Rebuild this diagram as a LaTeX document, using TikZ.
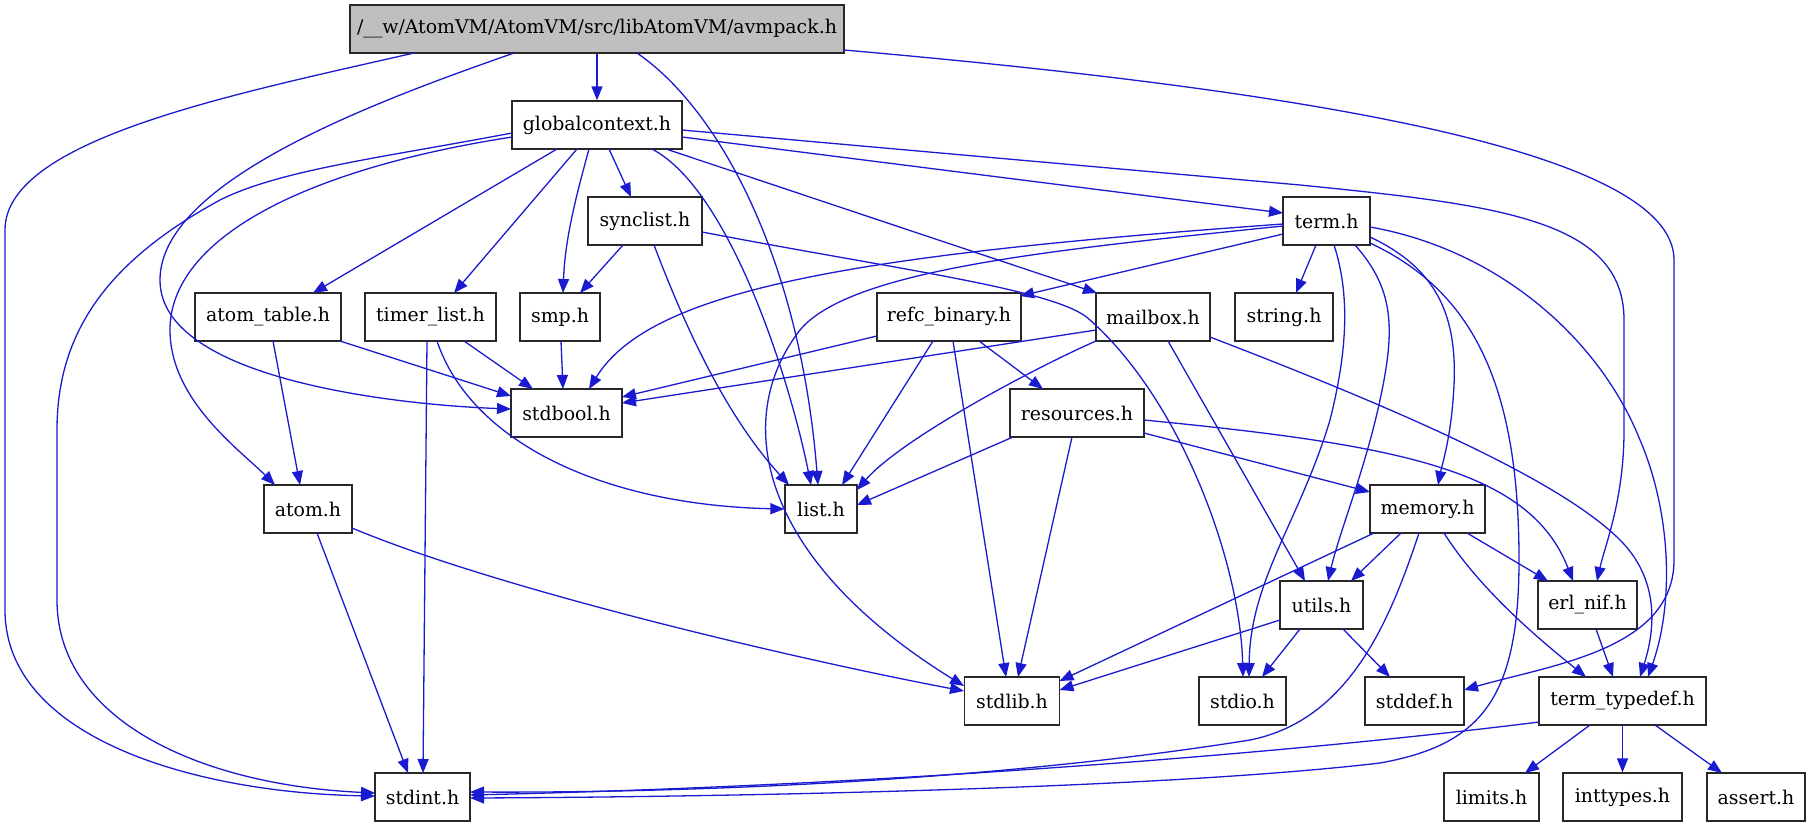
\documentclass[tikz,border=0pt]{standalone}
\usepackage{fontspec}
\setmainfont{DejaVu Serif}
\usetikzlibrary{arrows.meta,calc}
\definecolor{ec}{RGB}{26,26,208}
\definecolor{rootfill}{RGB}{191,191,191}
\definecolor{bordercol}{RGB}{40,40,40}
\begin{document}
\begin{tikzpicture}[x=1pt,y=-1pt,
  nd/.style={draw=bordercol, line width=1.3pt, fill=white, minimum height=48pt, inner sep=0pt, anchor=center,
    font=\fontsize{18.9pt}{22pt}\selectfont},
  e/.style={draw=ec, line width=1.3pt, -{Triangle[length=14pt,width=11pt]}, ec}]
\useasboundingbox (0,0) rectangle (1811,827);
% nodes
\node[nd, fill=rootfill, minimum width=494pt] (root) at (597,29) {/\_\_w/AtomVM/AtomVM/src/libAtomVM/avmpack.h};
\node[nd, minimum width=170pt] (gc) at (597,125) {globalcontext.h};
\node[nd, minimum width=114pt] (synclist) at (645,221) {synclist.h};
\node[nd, minimum width=87pt] (term) at (1326.5,221) {term.h};
\node[nd, minimum width=146pt] (atomtable) at (268,317) {atom\_table.h};
\node[nd, minimum width=131pt] (timerlist) at (430.5,317) {timer\_list.h};
\node[nd, minimum width=80pt] (smp) at (560,317) {smp.h};
\node[nd, minimum width=144pt] (refc) at (949,317) {refc\_binary.h};
\node[nd, minimum width=114pt] (mailbox) at (1153,317) {mailbox.h};
\node[nd, minimum width=98pt] (string) at (1284,317) {string.h};
\node[nd, minimum width=111pt] (stdbool) at (566.5,413) {stdbool.h};
\node[nd, minimum width=134pt] (resources) at (1077,413) {resources.h};
\node[nd, minimum width=88pt] (atom) at (308,509) {atom.h};
\node[nd, minimum width=72pt] (list) at (821,509) {list.h};
\node[nd, minimum width=115pt] (memory) at (1427.5,509) {memory.h};
\node[nd, minimum width=83pt] (utils) at (1321.5,605) {utils.h};
\node[nd, minimum width=99pt] (erlnif) at (1587.5,605) {erl\_nif.h};
\node[nd, minimum width=95pt] (stdlib) at (1012,701) {stdlib.h};
\node[nd, minimum width=87pt] (stdio) at (1242.5,701) {stdio.h};
\node[nd, minimum width=99pt] (stddef) at (1414.5,701) {stddef.h};
\node[nd, minimum width=167pt] (tt) at (1622.5,701) {term\_typedef.h};
\node[nd, minimum width=95pt] (stdint) at (422.5,797) {stdint.h};
\node[nd, minimum width=95pt] (limits) at (1491.5,797) {limits.h};
\node[nd, minimum width=119pt] (inttypes) at (1622.5,797) {inttypes.h};
\node[nd, minimum width=98pt] (assert) at (1756,797) {assert.h};
% root edges
\draw[e] (root.south) -- (gc.north);
\draw[e] ($(root)+(-183,24)$) .. controls (230,95) and (5,140) .. (5,230) -- (5,610) .. controls (5,740) and (200,793) .. ($(stdint)+(-47.5,-1)$);
\draw[e] ($(root)+(-83,24)$) .. controls (380,100) and (160,180) .. (160,280) .. controls (160,380) and (400,405) .. ($(stdbool)+(-55.5,-4)$);
\draw[e] ($(root)+(40,24)$) .. controls (720,110) and (800,260) .. ($(list)+(-3,-24)$);
\draw[e] ($(root)+(247,21)$) .. controls (1300,90) and (1674,150) .. (1674,260) -- (1674,560) .. controls (1674,650) and (1550,665) .. ($(stddef)+(49.5,-11)$);
% globalcontext edges
\draw[e] ($(gc)+(-40,24)$) -- ($(atomtable)+(45,-24)$);
\draw[e] ($(gc)+(-20,24)$) -- ($(timerlist)+(23.5,-24)$);
\draw[e] ($(gc)+(-8,24)$) .. controls (575,200) and (565,240) .. ($(smp)+(3,-24)$);
\draw[e] ($(gc)+(12,24)$) -- ($(synclist)+(-14,-24)$);
\draw[e] ($(gc)+(55,24)$) .. controls (730,190) and (790,380) .. ($(list)+(-10,-24)$);
\draw[e] ($(gc)+(69,24)$) -- ($(mailbox)+(-56,-24)$);
\draw[e] ($(gc)+(85,12)$) -- ($(term)+(-43.5,-8)$);
\draw[e] ($(gc)+(85,5)$) -- (1300,185) .. controls (1500,205) and (1624,220) .. (1624,320) -- (1624,430) .. controls (1624,500) and (1605,545) .. ($(erlnif)+(9.5,-24)$);
\draw[e] ($(gc)+(-85,8)$) .. controls (380,158) and (280,170) .. (220,200) .. controls (110,260) and (57,330) .. (57,430) -- (57,600) .. controls (57,720) and (200,785) .. ($(stdint)+(-47.5,-4)$);
\draw[e] ($(gc)+(-85,12)$) .. controls (300,170) and (170,240) .. (170,330) .. controls (170,400) and (240,450) .. ($(atom)+(-33,-24)$);
% synclist edges
\draw[e] ($(synclist)+(-22,24)$) -- ($(smp)+(20,-24)$);
\draw[e] ($(synclist)+(9,24)$) .. controls (690,340) and (730,420) .. ($(list)+(-32,-24)$);
\draw[e] ($(synclist)+(57,11)$) .. controls (900,270) and (1060,290) .. (1090,320) .. controls (1180,400) and (1240,560) .. ($(stdio)+(0.5,-24)$);
% atom_table, timer_list, smp
\draw[e] ($(atomtable)+(5,24)$) -- ($(atom)+(-8,-24)$);
\draw[e] ($(atomtable)+(72,24)$) -- ($(stdbool)+(-55.5,-17)$);
\draw[e] ($(timerlist)+(33.5,24)$) -- ($(stdbool)+(-33.5,-24)$);
\draw[e] ($(timerlist)+(-3.5,24)$) -- ($(stdint)+(0.5,-24)$);
\draw[e] ($(timerlist)+(6.5,24)$) .. controls (470,440) and (600,505) .. (list.west);
\draw[e] ($(smp)+(1,24)$) -- ($(stdbool)+(-3.5,-24)$);
% term edges
\draw[e] ($(term)+(-10.5,24)$) -- ($(string)+(12,-24)$);
\draw[e] ($(term)+(-43.5,13)$) -- ($(refc)+(71,-21)$);
\draw[e] ($(term)+(-43.5,3)$) .. controls (850,255) and (650,290) .. ($(stdbool)+(22.5,-24)$);
\draw[e] ($(term)+(-43.5,5)$) .. controls (1050,250) and (850,270) .. (800,330) .. controls (730,420) and (760,560) .. ($(stdlib)+(-48,-15)$);
\draw[e] ($(term)+(7.5,24)$) .. controls (1352,300) and (1345,360) .. (1330,420) .. controls (1300,520) and (1250,580) .. ($(stdio)+(6.5,-24)$);
\draw[e] ($(term)+(28.5,24)$) .. controls (1395,290) and (1395,330) .. (1380,400) .. controls (1365,470) and (1340,530) .. ($(utils)+(6.5,-24)$);
\draw[e] ($(term)+(43.5,16)$) .. controls (1440,270) and (1460,320) .. (1453,400) .. controls (1450,440) and (1442,465) .. ($(memory)+(10.5,-24)$);
\draw[e] ($(term)+(43.5,22)$) .. controls (1470,290) and (1519,380) .. (1519,560) .. controls (1519,700) and (1480,745) .. (1380,763) .. controls (1150,790) and (700,797) .. ($(stdint)+(47.5,1)$);
\draw[e] ($(term)+(43.5,6)$) .. controls (1500,250) and (1600,340) .. (1640,440) .. controls (1670,510) and (1675,600) .. ($(tt)+(25.5,-24)$);
% mailbox edges
\draw[e] ($(mailbox)+(-57,13)$) -- ($(stdbool)+(55.5,-10)$);
\draw[e] ($(mailbox)+(-57,24)$) .. controls (1030,370) and (900,440) .. ($(list)+(36,-19)$);
\draw[e] ($(mailbox)+(15,24)$) -- ($(utils)+(-16.5,-24)$);
\draw[e] ($(mailbox)+(57,20)$) .. controls (1400,410) and (1560,480) .. (1620,540) .. controls (1660,580) and (1655,630) .. ($(tt)+(17.5,-24)$);
% refc_binary edges
\draw[e] ($(refc)+(-72,19)$) -- ($(stdbool)+(55.5,-16)$);
\draw[e] ($(refc)+(-16,24)$) -- ($(list)+(21,-24)$);
\draw[e] ($(refc)+(4,24)$) -- ($(stdlib)+(-6,-24)$);
\draw[e] ($(refc)+(30,24)$) -- ($(resources)+(-34,-24)$);
% resources edges
\draw[e] ($(resources)+(-64,24)$) -- ($(list)+(36,-4)$);
\draw[e] ($(resources)+(-5,24)$) -- ($(stdlib)+(6,-24)$);
\draw[e] ($(resources)+(67,20)$) -- ($(memory)+(-57.5,-17)$);
\draw[e] ($(resources)+(67,7)$) .. controls (1400,445) and (1530,470) .. ($(erlnif)+(-14.5,-24)$);
% atom edges
\draw[e] ($(atom)+(9,24)$) -- ($(stdint)+(-14.5,-24)$);
\draw[e] ($(atom)+(44,19)$) .. controls (500,590) and (800,660) .. ($(stdlib)+(-48,-10)$);
% memory edges
\draw[e] ($(memory)+(-26.5,24)$) -- ($(utils)+(29.5,-24)$);
\draw[e] ($(memory)+(39.5,24)$) -- ($(erlnif)+(-39.5,-24)$);
\draw[e] ($(memory)+(16.5,24)$) .. controls (1480,590) and (1540,640) .. ($(tt)+(-36.5,-24)$);
\draw[e] ($(memory)+(-53.5,24)$) -- ($(stdlib)+(47.5,-20)$);
\draw[e] ($(memory)+(-8.5,24)$) .. controls (1390,620) and (1350,720) .. (1250,740) .. controls (1000,780) and (700,793) .. ($(stdint)+(47.5,-5)$);
% utils edges
\draw[e] ($(utils)+(-41.5,15)$) -- ($(stdlib)+(47.5,-11)$);
\draw[e] ($(utils)+(-21.5,24)$) -- ($(stdio)+(19.5,-24)$);
\draw[e] ($(utils)+(21.5,24)$) -- ($(stddef)+(-24.5,-24)$);
% erl_nif
\draw[e] ($(erlnif)+(8.5,24)$) -- ($(tt)+(-9.5,-24)$);
% term_typedef edges
\draw[e] ($(tt)+(-83.5,21)$) .. controls (1300,752) and (900,785) .. ($(stdint)+(47.5,-2)$);
\draw[e] ($(tt)+(-32.5,24)$) -- ($(limits)+(33.5,-24)$);
\draw[e] (tt.south) -- (inttypes.north);
\draw[e] ($(tt)+(32.5,24)$) -- ($(assert)+(-34,-24)$);
\end{tikzpicture}
\end{document}
